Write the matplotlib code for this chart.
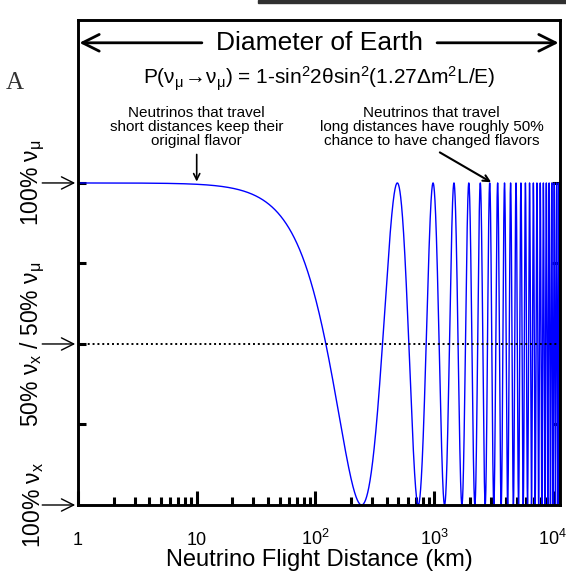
import numpy as np
import matplotlib.pyplot as plt
from matplotlib.patches import Rectangle

plt.rcParams['font.family'] = ['Liberation Sans', 'DejaVu Sans']
plt.rcParams['mathtext.fontset'] = 'custom'
plt.rcParams['mathtext.rm'] = 'Liberation Sans'
plt.rcParams['mathtext.it'] = 'Liberation Sans'
plt.rcParams['mathtext.default'] = 'regular'

# values
first_minimum_km = 245.0      # first point where nu_mu survival drops to 0
mixing_sin2_2theta = 1.0      # curve reaches 0 -> maximal mixing
x_range_km = [1.0, 11500.0]
x_tick_pos = [1, 10, 100, 1000, 10000]
x_tick_labels = ['1', '10', '10$^2$', '10$^3$', '10$^4$']
y_marks = [1.0, 0.5, 0.0]
y_mark_labels = ['100% $\\nu_\\mu$', '50% $\\nu_x$ / 50% $\\nu_\\mu$', '100% $\\nu_x$']
y_top = 1.506

# curve of the formula printed on the chart
L = np.logspace(np.log10(x_range_km[0]), np.log10(x_range_km[1]), 40000)
P = 1 - mixing_sin2_2theta * np.sin(np.pi / 2 * L / first_minimum_km) ** 2

fig = plt.figure(figsize=(5.66, 5.79), dpi=100)
ax = fig.add_axes([78 / 566, 74 / 579, 482 / 566, 485 / 579])

ax.plot(L, P, color='#0000ff', lw=1.0)
ax.axhline(0.5, color='black', ls=(0, (1, 1.5)), lw=1.4)

ax.set_xscale('log')
ax.set_xlim(x_range_km)
ax.set_ylim(0, y_top)

for s in ax.spines.values():
    s.set_linewidth(2.1)

ax.set_xticks(x_tick_pos, x_tick_labels)
ax.tick_params(axis='x', which='major', direction='in', length=10, width=2.2,
               labelsize=13, pad=29)
ax.tick_params(axis='x', which='minor', direction='in', length=6, width=2.2)
for lbl in ax.get_xticklabels():
    lbl.set_verticalalignment('baseline')
ax.set_yticks([0.25, 0.5, 0.75, 1.0])
ax.set_yticklabels([])
ax.tick_params(axis='y', direction='in', length=6, width=2.2, right=True)
ax.set_xlabel('Neutrino Flight Distance (km)', fontsize=17, labelpad=0)

# y-level labels with arrows
for y, lab in zip(y_marks, y_mark_labels):
    ya = y / y_top
    ax.annotate('', xy=(0, ya), xytext=(-0.08, ya), xycoords='axes fraction',
                arrowprops=dict(arrowstyle='->', lw=1.0, mutation_scale=22,
                                color='black'), annotation_clip=False)
    ax.text(-0.093, ya, lab, transform=ax.transAxes, rotation=90,
            ha='center', va='center', fontsize=16.5)

# diameter of earth arrow, split around the text
arrow_y = 0.953
for start, end in [(0.257, 0.003), (0.745, 0.997)]:
    ax.annotate('', xy=(end, arrow_y), xytext=(start, arrow_y),
                xycoords='axes fraction',
                arrowprops=dict(arrowstyle='->', lw=2.0, mutation_scale=30,
                                color='black', shrinkA=0, shrinkB=0))
ax.text(0.5, arrow_y, 'Diameter of Earth', transform=ax.transAxes, ha='center',
        va='center', fontsize=19)

ax.text(0.5, 0.878, 'P($\\nu_\\mu\\!\\rightarrow\\!\\nu_\\mu$) = 1-sin$^2$2θsin$^2$(1.27Δm$^2$L/E)',
        transform=ax.transAxes, ha='center', va='center', fontsize=15)

ax.annotate('Neutrinos that travel\nshort distances keep their\noriginal flavor',
            xy=(10, 1.0), xytext=(10, 1.11), ha='center', va='bottom',
            fontsize=11, linespacing=1.0,
            arrowprops=dict(arrowstyle='->', lw=1.2, color='black',
                            shrinkA=3, shrinkB=1))
ax.annotate('Neutrinos that travel\nlong distances have roughly 50%\nchance to have changed flavors',
            xy=(3100, 1.0), xytext=(950, 1.11), ha='center', va='bottom',
            fontsize=11, linespacing=1.0,
            arrowprops=dict(arrowstyle='->', lw=1.5, color='black',
                            shrinkA=3, shrinkB=1, relpos=(0.5, 0)))

fig.text(15 / 566, 1 - 83 / 579, 'A', family=['Liberation Serif', 'DejaVu Serif'],
         fontsize=18, ha='center', va='center', color='#333333')
fig.patches.append(Rectangle((258 / 566, 1 - 3 / 579), 1, 3 / 579,
                             transform=fig.transFigure, color='#303030'))

fig.savefig('out.png', dpi=100)
